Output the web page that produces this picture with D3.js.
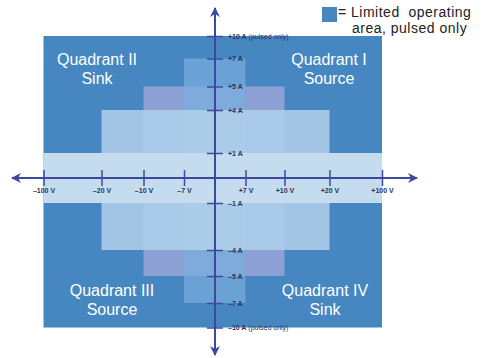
<!DOCTYPE html>
<html>
<head>
<meta charset="utf-8">
<script src="https://cdn.jsdelivr.net/npm/d3@7"></script>
<style>
  body { margin: 0; background: #fff; }
  svg { display: block; font-family: 'Liberation Sans', Arial, sans-serif; }
</style>
</head>
<body>
<svg width="490" height="358"></svg>
<script>
// Voltage ticks (x) and current ticks (y)
var voltTicks = [-100, -20, -10, -7, 7, 10, 20, 100];
var ampTicks = [10, 7, 5, 4, 1, -1, -4, -5, -7, -10];

// Operating regions, drawn in order (later on top)
var regionV0 = [-100, -10, -7, -7, -20, -10, -7, -100];
var regionV1 = [100, 10, 7, 7, 20, 10, 7, 100];
var regionA0 = [-10, -5, -7, -5, -4, -4, -4, -1];
var regionA1 = [10, 5, 7, 5, 4, 4, 4, 1];
var regionFill = ['#4687c1', '#8ca0d3', '#6aa2d6', '#7eabdc', '#a3c5e5', '#a8c9e7', '#abcce8', '#c5dbee'];

var quadNames = ['Quadrant I', 'Quadrant II', 'Quadrant III', 'Quadrant IV'];
var quadModes = ['Source', 'Sink', 'Source', 'Sink'];

var svg = d3.select('svg');

// piecewise scales to follow the uneven spacing of the drawing
var xScale = d3.scaleLinear()
    .domain([-100, -20, -10, -7, 0, 7, 10, 20, 100])
    .range([43.5, 101.5, 143.5, 184, 215, 245.5, 284.5, 329.5, 382]);
var yScale = d3.scaleLinear()
    .domain([-10, -7, -5, -4, -1, 0, 1, 4, 5, 7, 10])
    .range([327.5, 303, 276, 250, 203, 178, 153, 110, 86.5, 58.5, 36]);

var regions = regionV0.map(function(v, i) {
    return {v0: v, v1: regionV1[i], a0: regionA0[i], a1: regionA1[i], fill: regionFill[i]};
});

svg.append('g').selectAll('rect')
    .data(regions)
    .enter()
    .append('rect')
    .attr('x', function(d) { return xScale(d.v0); })
    .attr('y', function(d) { return yScale(d.a1); })
    .attr('width', function(d) { return xScale(d.v1) - xScale(d.v0); })
    .attr('height', function(d) { return yScale(d.a0) - yScale(d.a1); })
    .style('fill', function(d) { return d.fill; });

// quadrant labels
var quadPos = [[329, 65], [97, 65], [112, 296], [325, 296]];
var quadG = svg.append('g')
    .style('fill', '#fff')
    .style('font-size', '16px')
    .attr('text-anchor', 'middle');
quadNames.forEach(function(name, i) {
    quadG.append('text').attr('x', quadPos[i][0]).attr('y', quadPos[i][1]).text(name);
    quadG.append('text').attr('x', quadPos[i][0]).attr('y', quadPos[i][1] + 18.5).text(quadModes[i]);
});

var axisColor = '#3b4a9e';

// arrow heads
var defs = svg.append('defs');
defs.append('marker')
    .attr('id', 'arrow')
    .attr('viewBox', '0 0 10 10')
    .attr('refX', 9).attr('refY', 5)
    .attr('markerWidth', 5).attr('markerHeight', 5)
    .attr('orient', 'auto-start-reverse')
    .append('path')
    .attr('d', 'M0,0 L10,5 L0,10 L3,5 Z')
    .style('fill', axisColor);

svg.append('line')
    .attr('x1', 12).attr('x2', 417)
    .attr('y1', yScale(0)).attr('y2', yScale(0))
    .style('stroke', axisColor).style('stroke-width', 2)
    .attr('marker-start', 'url(#arrow)').attr('marker-end', 'url(#arrow)');
svg.append('line')
    .attr('x1', xScale(0)).attr('x2', xScale(0))
    .attr('y1', 8).attr('y2', 355)
    .style('stroke', axisColor).style('stroke-width', 2)
    .attr('marker-start', 'url(#arrow)').attr('marker-end', 'url(#arrow)');

// x axis
var xAx = svg.append('g')
    .attr('transform', 'translate(0,' + yScale(0) + ')')
    .call(d3.axisBottom(xScale)
        .tickValues(voltTicks)
        .tickSize(8)
        .tickPadding(6)
        .tickFormat(function(d) { return (d > 0 ? '+' : '\u2013') + Math.abs(d) + ' V'; }));
xAx.select('.domain').remove();
xAx.selectAll('.tick line')
    .attr('y1', -8).attr('y2', 8)
    .style('stroke', axisColor).style('stroke-width', 1.5);
xAx.selectAll('.tick text')
    .attr('y', 10)
    .style('font-size', '7px').style('font-weight', 'bold')
    .style('fill', '#2c3557').style('font-family', 'Liberation Sans, Arial, sans-serif');

// y axis
var yAx = svg.append('g')
    .attr('transform', 'translate(' + xScale(0) + ',0)')
    .call(d3.axisRight(yScale)
        .tickValues(ampTicks)
        .tickSize(8)
        .tickPadding(5)
        .tickFormat(function(d) { return (d > 0 ? '+' : '\u2013') + Math.abs(d) + ' A'; }));
yAx.select('.domain').remove();
yAx.selectAll('.tick line')
    .attr('x1', -8).attr('x2', 8)
    .style('stroke', axisColor).style('stroke-width', 1.5);
yAx.selectAll('.tick text')
    .style('font-size', '7px').style('font-weight', 'bold')
    .style('fill', '#2c3557').style('font-family', 'Liberation Sans, Arial, sans-serif');
yAx.selectAll('.tick text')
    .filter(function(d) { return Math.abs(d) === 10; })
    .append('tspan')
    .style('font-weight', 'normal')
    .text(' (pulsed only)');

// legend
var leg = svg.append('g');
leg.append('rect')
    .attr('x', 322).attr('y', 7).attr('width', 15).attr('height', 15)
    .style('fill', regionFill[0]);
leg.append('text')
    .attr('x', 338).attr('y', 16.5)
    .style('font-size', '14px').style('letter-spacing', '0.5px').style('fill', '#222')
    .attr('xml:space', 'preserve')
    .text('= Limited  operating');
leg.append('text')
    .attr('x', 352).attr('y', 33)
    .style('font-size', '14px').style('letter-spacing', '0.5px').style('fill', '#222')
    .text('area, pulsed only');
</script>
</body>
</html>
